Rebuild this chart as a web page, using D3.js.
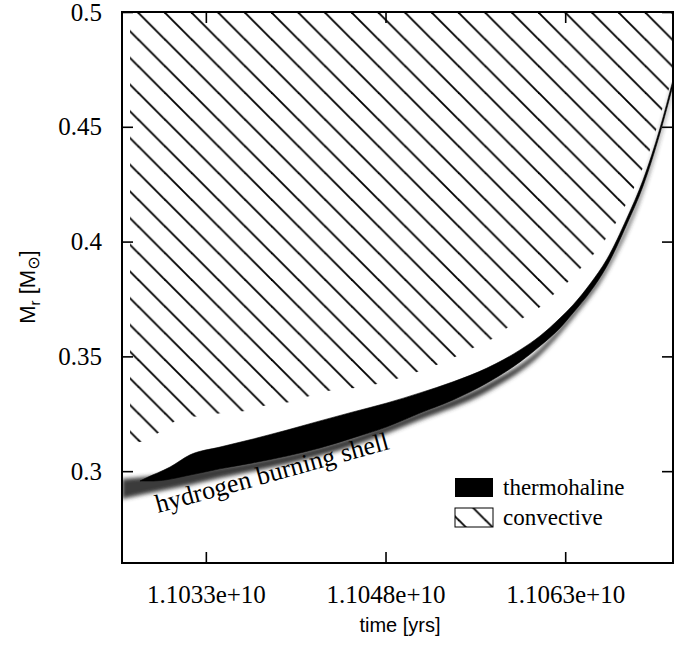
<!DOCTYPE html>
<html>
<head>
<meta charset="utf-8">
<script src="https://cdn.jsdelivr.net/npm/d3@7"></script>
<style>
  html, body { margin: 0; padding: 0; background: #fff; }
  svg { display: block; }
</style>
</head>
<body>
<svg id="chart" width="687" height="646"></svg>
<script>
// ---------- data (time in years, mass in solar masses) ----------
const xTicks = [1.1033e10, 1.1048e10, 1.1063e10];
const yTicks = [0.3, 0.35, 0.4, 0.45, 0.5];
const xDomain = [1.1026e10, 1.1072e10];
const yDomain = [0.26, 0.5];

// convective zone lower boundary (upper boundary is beyond the plot top)
const convTime = [1.102667e10, 1.102750e10, 1.102917e10, 1.103101e10, 1.103268e10, 1.103435e10,
  1.103627e10, 1.103811e10, 1.104003e10, 1.104195e10, 1.104362e10, 1.104545e10, 1.104729e10,
  1.104896e10, 1.105063e10, 1.105230e10, 1.105380e10, 1.105530e10, 1.105689e10, 1.105814e10,
  1.105948e10, 1.106090e10, 1.106198e10, 1.106323e10, 1.106424e10, 1.106532e10, 1.106632e10,
  1.106774e10, 1.106941e10, 1.107008e10, 1.107108e10, 1.107175e10, 1.107200e10];
const convLow = [0.3123, 0.3127, 0.3171, 0.3232, 0.3240, 0.3253,
  0.3262, 0.3288, 0.3301, 0.3332, 0.3354, 0.3362, 0.3380,
  0.3402, 0.3432, 0.3463, 0.3497, 0.3537, 0.3576, 0.3624,
  0.3667, 0.3715, 0.3767, 0.3824, 0.3881, 0.3942, 0.4007,
  0.4129, 0.4312, 0.4399, 0.4573, 0.4682, 0.4739];

// thermohaline zone: upper boundary
const thermoTopTime = [1.102750e10, 1.102792e10, 1.103001e10, 1.103168e10, 1.103418e10, 1.103694e10,
  1.103978e10, 1.104253e10, 1.104529e10, 1.104812e10, 1.105088e10, 1.105363e10, 1.105647e10,
  1.105923e10, 1.106090e10, 1.106257e10, 1.106365e10, 1.106507e10, 1.106649e10, 1.106816e10,
  1.106950e10, 1.107092e10, 1.107200e10];
const thermoTop = [0.2957, 0.2968, 0.3018, 0.3071, 0.3105, 0.3140,
  0.3179, 0.3219, 0.3258, 0.3297, 0.3341, 0.3389, 0.3449,
  0.3528, 0.3589, 0.3667, 0.3724, 0.3815, 0.3924, 0.4103,
  0.4268, 0.4495, 0.4704];
// thermohaline zone: lower boundary
const thermoBotTime = [1.102750e10, 1.102859e10, 1.103168e10, 1.103418e10, 1.103694e10, 1.103978e10,
  1.104253e10, 1.104529e10, 1.104812e10, 1.105088e10, 1.105363e10, 1.105647e10, 1.105923e10,
  1.106090e10, 1.106257e10, 1.106365e10, 1.106507e10, 1.106649e10, 1.106816e10, 1.106950e10,
  1.107092e10, 1.107200e10];
const thermoBot = [0.2957, 0.2957, 0.2983, 0.3010, 0.3036, 0.3066,
  0.3101, 0.3145, 0.3193, 0.3253, 0.3310, 0.3384, 0.3476,
  0.3545, 0.3624, 0.3689, 0.3780, 0.3894, 0.4077, 0.4242,
  0.4473, 0.4682];

// hydrogen burning shell band
const shellTime = [1.102600e10, 1.102792e10, 1.103168e10, 1.103418e10, 1.103978e10, 1.104529e10,
  1.105088e10, 1.105647e10, 1.106090e10, 1.106365e10, 1.106649e10, 1.106950e10, 1.107092e10, 1.107200e10];
const shellUpper = [0.2966, 0.2975, 0.2997, 0.3018, 0.3071, 0.3149,
  0.3258, 0.3380, 0.3532, 0.3693, 0.3898, 0.4247, 0.4477, 0.4686];
const shellLower = [0.2879, 0.2901, 0.2940, 0.2970, 0.3031, 0.3110,
  0.3223, 0.3345, 0.3506, 0.3667, 0.3872, 0.4220, 0.4456, 0.4665];

const legendLabels = ["thermohaline", "convective"];

// ---------- layout ----------
const margin = {left: 122, top: 12, right: 14, bottom: 83};
const W = 687, H = 646;
const width = W - margin.left - margin.right;   // 551
const height = H - margin.top - margin.bottom;  // 551

const svg = d3.select("#chart");
const x = d3.scaleLinear().domain(xDomain).range([0, width]);
const y = d3.scaleLinear().domain(yDomain).range([height, 0]);

const defs = svg.append("defs");
defs.append("clipPath").attr("id", "plotclip")
  .append("rect").attr("width", width).attr("height", height);
const pat = defs.append("pattern").attr("id", "hatch")
  .attr("patternUnits", "userSpaceOnUse")
  .attr("width", 26.7).attr("height", 26.7)
  .attr("patternTransform", "translate(15.5,0)");
[[-2, -2, 28.7, 28.7], [24.7, -2, 28.7, 2], [-2, 24.7, 2, 28.7]].forEach(l => {
  pat.append("line").attr("x1", l[0]).attr("y1", l[1]).attr("x2", l[2]).attr("y2", l[3])
    .attr("stroke", "#000").attr("stroke-width", 1.9);
});
const blur = defs.append("filter").attr("id", "blur")
  .attr("x", "-10%").attr("y", "-50%").attr("width", "120%").attr("height", "200%");
blur.append("feGaussianBlur").attr("stdDeviation", 1.9);

const g = svg.append("g").attr("transform", `translate(${margin.left},${margin.top})`);
const plot = g.append("g").attr("clip-path", "url(#plotclip)");

const line = d3.line().x(d => x(d[0])).y(d => y(d[1])).curve(d3.curveMonotoneX);
const zip = (a, b) => a.map((v, i) => [v, b[i]]);

// convective region (hatched)
const convPts = zip(convTime, convLow);
const convLeft = convTime[0], convRight = convTime[convTime.length - 1];
const convTopPath = `M${x(convLeft)},${y(yDomain[1]) - 5}L${x(convRight) + 5},${y(yDomain[1]) - 5}L${x(convRight) + 5},${y(convLow[convLow.length - 1])}`;
const convLowPath = line(convPts.slice().reverse());
plot.append("path")
  .attr("d", convTopPath + "L" + convLowPath.slice(1) + "Z")
  .attr("fill", "url(#hatch)").attr("stroke", "none");

// hydrogen burning shell (blurred band)
const shellUpPts = zip(shellTime, shellUpper);
const shellLoPts = zip(shellTime, shellLower).reverse();
const shellPath = line(shellUpPts) + "L" + line(shellLoPts).slice(1) + "Z";
plot.append("path").attr("d", shellPath)
  .attr("fill", "#3a3a3a").attr("filter", "url(#blur)");

// thermohaline region (solid black)
const thTop = zip(thermoTopTime, thermoTop);
const thBot = zip(thermoBotTime, thermoBot).reverse();
plot.append("path")
  .attr("d", line(thTop) + "L" + line(thBot).slice(1) + "Z")
  .attr("fill", "#000").attr("stroke", "#000").attr("stroke-width", 0.6);

// shell label
plot.append("text")
  .attr("transform", "translate(36,501) rotate(-15.4)")
  .attr("font-family", "'Liberation Serif', 'DejaVu Serif', serif")
  .attr("font-size", 26)
  .text("hydrogen burning shell");

// ---------- axes ----------
const serif = "'Liberation Serif', 'Times New Roman', serif";
const sans = "'Liberation Sans', Arial, sans-serif";

const xAxis = g.append("g").attr("transform", `translate(0,${height})`)
  .call(d3.axisBottom(x).tickValues(xTicks).tickSize(-11).tickPadding(22)
    .tickFormat(d => d3.format(".4e")(d)));
const xTop = g.append("g")
  .call(d3.axisTop(x).tickValues(xTicks).tickSize(-11).tickFormat(""));
const yAxis = g.append("g")
  .call(d3.axisLeft(y).tickValues(yTicks).tickSize(-11).tickPadding(20)
    .tickFormat(d => String(+d.toFixed(2))));
const yRight = g.append("g").attr("transform", `translate(${width},0)`)
  .call(d3.axisRight(y).tickValues(yTicks).tickSize(-11).tickFormat(""));

[xAxis, xTop, yAxis, yRight].forEach(a => {
  a.attr("font-family", serif);
  a.select(".domain").remove();
  a.selectAll(".tick line").attr("stroke", "#000").attr("stroke-width", 1.6);
  a.selectAll(".tick text").attr("font-family", serif).attr("font-size", 25).attr("fill", "#000");
});

// frame
g.append("rect").attr("width", width).attr("height", height)
  .attr("fill", "none").attr("stroke", "#000").attr("stroke-width", 2);

// axis titles
svg.append("text").attr("x", 400).attr("y", 632)
  .attr("text-anchor", "middle").attr("font-family", sans).attr("font-size", 20)
  .text("time [yrs]");

const yl = svg.append("text")
  .attr("transform", "translate(35,287) rotate(-90)")
  .attr("text-anchor", "middle").attr("font-family", sans).attr("font-size", 22);
yl.append("tspan").text("M");
yl.append("tspan").attr("font-size", 15).attr("dy", 5).text("r");
yl.append("tspan").attr("dy", -5).text(" [M");
yl.append("tspan").attr("font-size", 16).attr("dy", 4).attr("font-family", "'DejaVu Sans', sans-serif").text("\u2299");
yl.append("tspan").attr("dy", -4).text("]");

// ---------- legend (plot-local coordinates) ----------
const lg = g.append("g");
lg.append("rect").attr("x", 333).attr("y", 466).attr("width", 38).attr("height", 19).attr("fill", "#000");
lg.append("rect").attr("x", 333).attr("y", 496).attr("width", 38).attr("height", 19)
  .attr("fill", "url(#hatch)").attr("stroke", "#000").attr("stroke-width", 1);
lg.selectAll("text.leg").data(legendLabels).enter().append("text")
  .attr("class", "leg")
  .attr("x", 381).attr("y", (d, i) => 483 + i * 30)
  .attr("font-family", serif).attr("font-size", 23)
  .text(d => d);
</script>
</body>
</html>
